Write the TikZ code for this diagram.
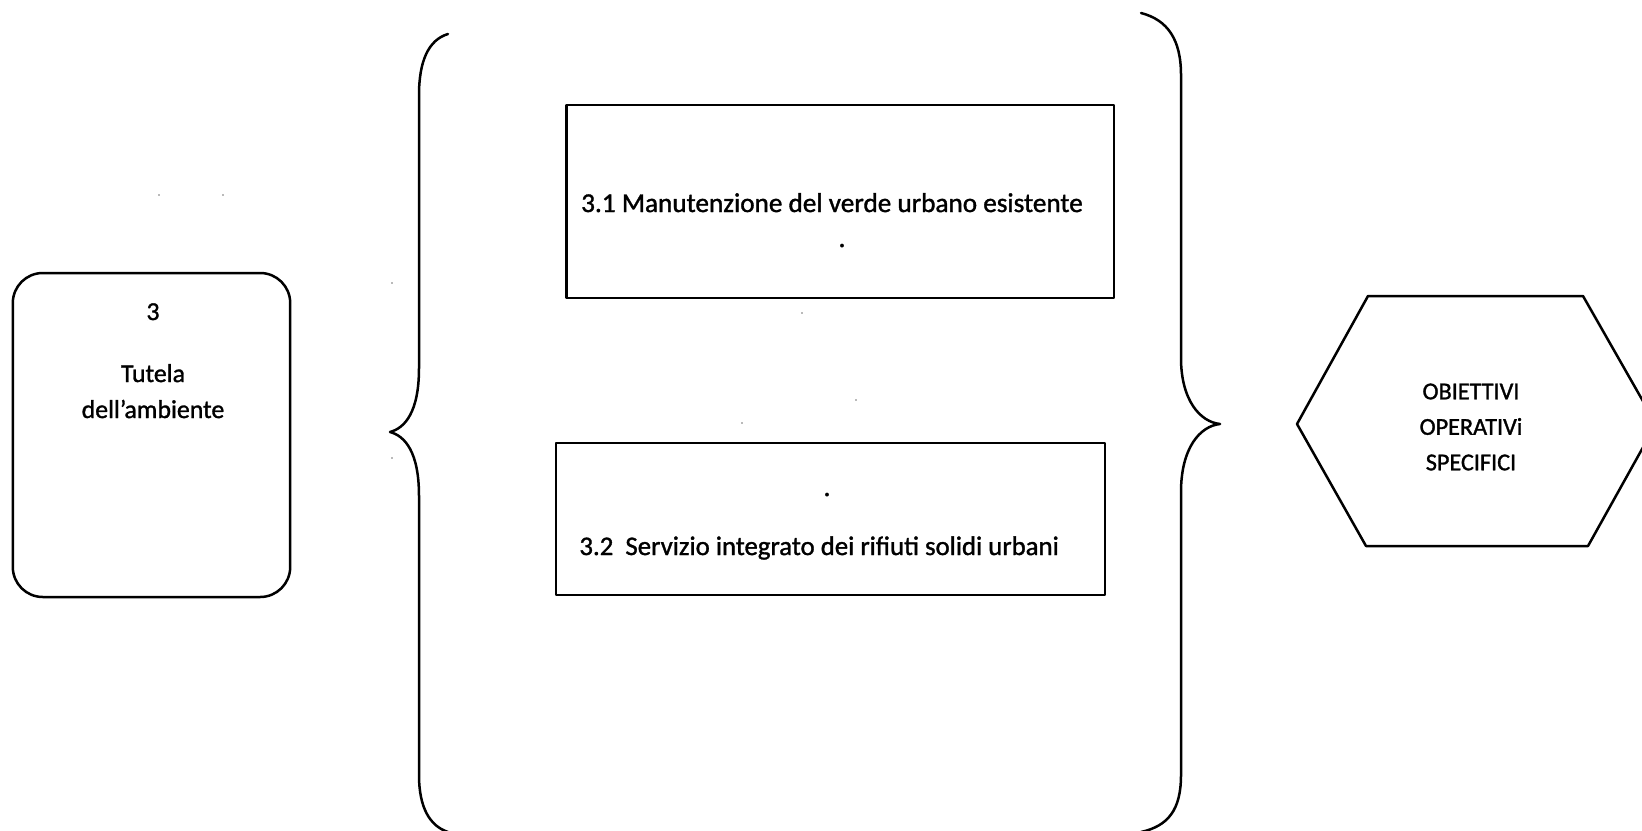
\documentclass[tikz,border=0pt]{standalone}
\usepackage{fontspec}
\setmainfont{Carlito}[FakeBold=1.3, AutoFakeBold=1.3]
\newfontfamily\scanfont{Carlito}[FakeBold=1.3]
\begin{document}
\begin{tikzpicture}[x=0.5pt,y=-0.5pt,
  line/.style={line width=1.25pt, line join=round, line cap=round},
  leftext/.style={font=\scanfont\fontsize{12.9}{15}\selectfont, inner sep=0pt},
  boxtext/.style={font=\scanfont\fontsize{13.6}{15}\selectfont, inner sep=0pt},
  hextext/.style={font=\scanfont\fontsize{12.1}{17.75}\selectfont, align=center, inner sep=0pt},
  speck/.style={fill=black!55, circle, inner sep=0pt, minimum size=0.9pt}]
\useasboundingbox (0,0) rectangle (1642,830);
\clip (0,0) rectangle (1642,830);

% left rounded box
\node[line, draw, rounded corners=15pt, minimum width=138.7pt, minimum height=162pt, inner sep=0pt] (goal) at (151.5,435) {};
\node[leftext, anchor=base] (num) at (153,320) {3};
\node[leftext, anchor=base] (t1) at (153,382) {Tutela};
\node[leftext, anchor=base] (t2) at (153,418) {dell’ambiente};

% left brace
\coordinate (lb1) at (448,34);
\coordinate (lb2) at (419,95);
\coordinate (lb3) at (419,368);
\coordinate (lbt) at (390,432);
\coordinate (lb4) at (419,496);
\coordinate (lb5) at (419,775);
\coordinate (lb6) at (448,832);
\draw[line] (lb1) .. controls (428,40) and (419,62) .. (lb2) -- (lb3)
  .. controls (419,412) and (405,428) .. (lbt)
  .. controls (405,436) and (419,452) .. (lb4) -- (lb5)
  .. controls (419,808) and (430,826) .. (lb6);

% right brace
\coordinate (rb1) at (1141,13);
\coordinate (rb2) at (1181,75);
\coordinate (rb3) at (1181,358);
\coordinate (rbt) at (1220,424);
\coordinate (rb4) at (1181,492);
\coordinate (rb5) at (1181,775);
\coordinate (rb6) at (1141,832);
\draw[line] (rb1) .. controls (1168,20) and (1181,40) .. (rb2) -- (rb3)
  .. controls (1181,400) and (1200,422) .. (rbt)
  .. controls (1200,426) and (1181,448) .. (rb4) -- (rb5)
  .. controls (1181,810) and (1168,826) .. (rb6);

% middle boxes
\node[line, draw, minimum width=273.75pt, minimum height=96.5pt, inner sep=0pt] (b31) at (840,201.5) {};
\node[boxtext, anchor=base] (b31t) at (832,212) {3.1 Manutenzione del verde urbano esistente};
\node[boxtext, anchor=base] (b31d) at (842,247) {.};

\node[line, draw, minimum width=274.5pt, minimum height=76pt, inner sep=0pt] (b32) at (830.5,519) {};
\node[boxtext, anchor=base west, font=\scanfont\fontsize{13.4}{15}\selectfont] (b32t) at (579,555) {3.2\ \ Servizio integrato dei rifiuti solidi urbani};
\node[boxtext, anchor=base] (b32d) at (827,496) {.};

% hexagon
\coordinate (h1) at (1297,424);
\coordinate (h2) at (1368,296);
\coordinate (h3) at (1583,296);
\coordinate (h4) at (1656,424);
\coordinate (h5) at (1588,546);
\coordinate (h6) at (1366,546);
\draw[line] (h1) -- (h2) -- (h3) -- (h4) -- (h5) -- (h6) -- cycle;
\node[hextext] (obj) at (1471,427) {OBIETTIVI\\OPERATIVi\\SPECIFICI};

% scanning specks
\node[speck] (s1) at (159,195) {};
\node[speck] (s2) at (223,195) {};
\node[speck] (s3) at (392,283) {};
\node[speck] (s4) at (392,458) {};
\node[speck] (s5) at (802,313) {};
\node[speck] (s6) at (856,400) {};
\node[speck] (s7) at (742,423) {};
\end{tikzpicture}
\end{document}
